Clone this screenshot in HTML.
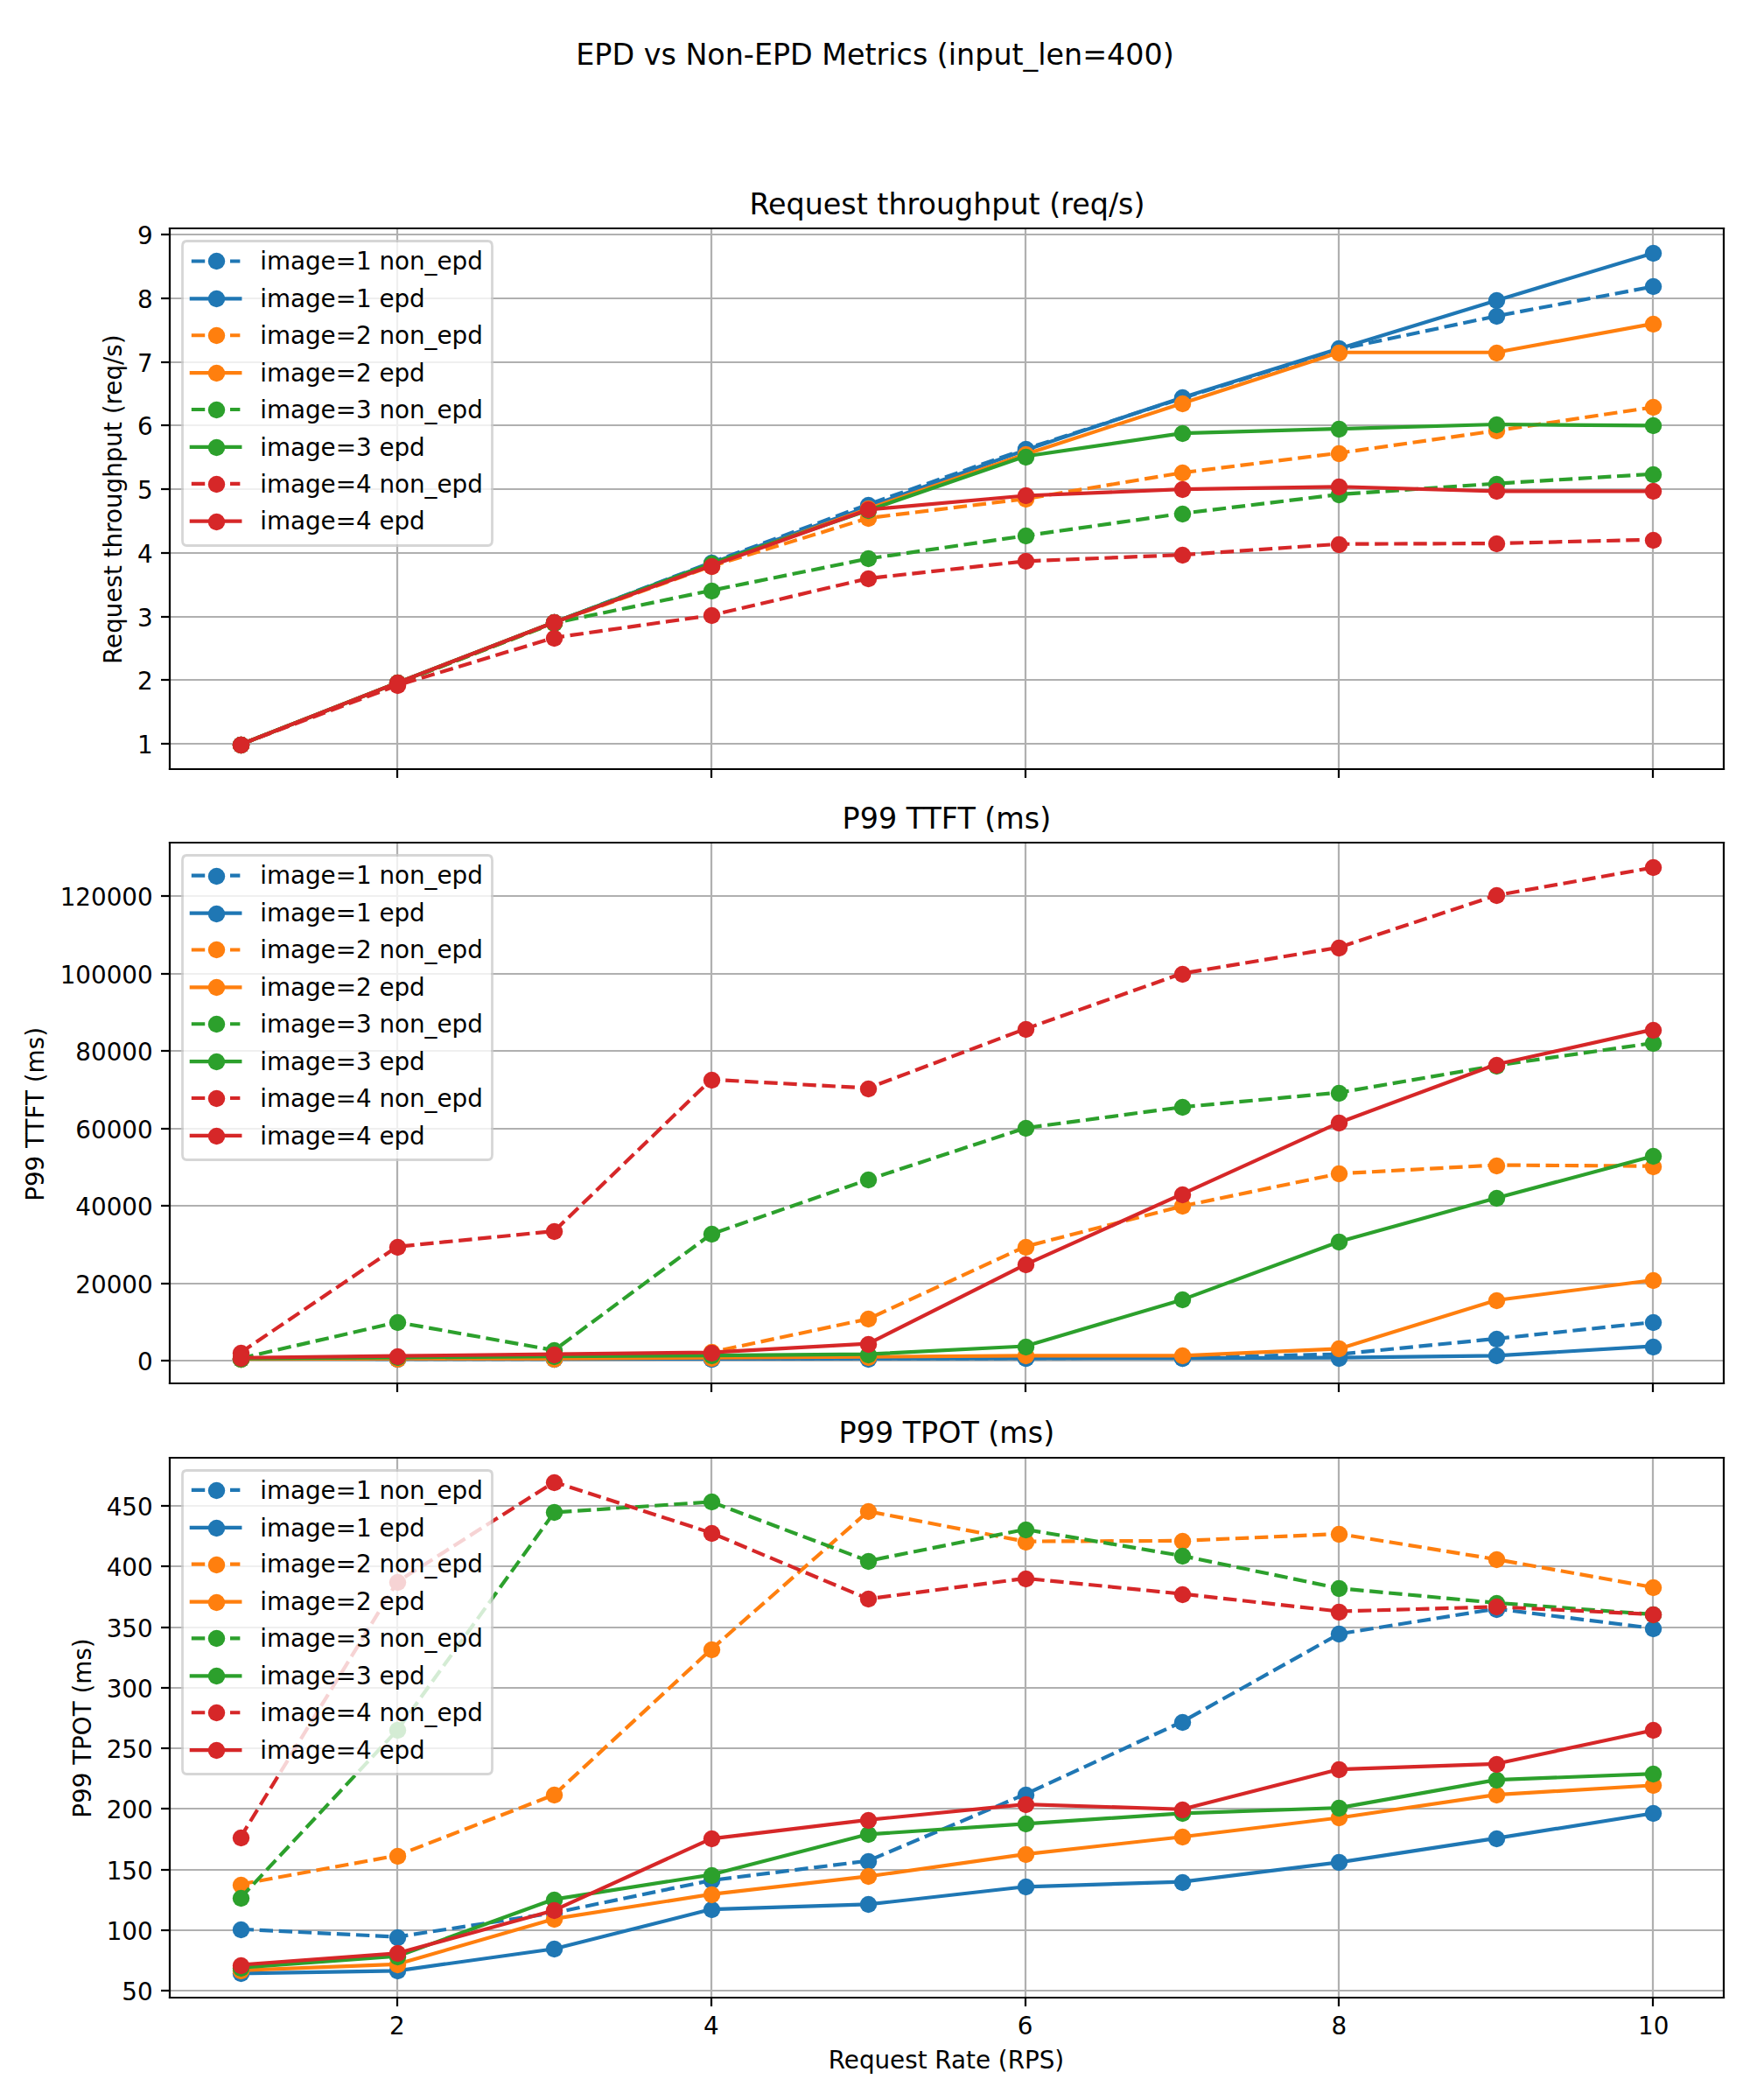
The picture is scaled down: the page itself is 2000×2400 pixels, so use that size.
<!DOCTYPE html>
<html lang="en"><head><meta charset="utf-8"><title>EPD vs Non-EPD Metrics (input_len=400)</title>
<style>html,body{margin:0;padding:0;background:#fff}body{width:2000px;height:2400px;overflow:hidden}svg{display:block}text{fill:#000;stroke:none}</style></head>
<body>
<svg width="2000" height="2400" viewBox="0 0 2000 2400" font-family="'DejaVu Sans','Liberation Sans',sans-serif" fill="none" stroke-linejoin="round">
<defs><clipPath id="pfb140a372c"><rect x="193.81" y="261.2" width="1776.19" height="617.82"/></clipPath><clipPath id="p8f3e47ff96"><rect x="193.81" y="963.41" width="1776.19" height="617.82"/></clipPath><clipPath id="pfa2d63858b"><rect x="193.81" y="1665.62" width="1776.19" height="617.82"/></clipPath></defs>
<path d="M0 2400L2000 2400L2000 0L0 0Z" fill="#ffffff"/>
<path d="M193.81 879.02L1970 879.02L1970 261.2L193.81 261.2Z" fill="#ffffff"/>
<path d="M454 879L454 261" fill="none" stroke="#b0b0b0" stroke-width="2.22" stroke-linecap="square" clip-path="url(#pfb140a372c)"/>
<path d="M454 879L454 889" stroke="#000" stroke-width="2.22"/>
<path d="M813 879L813 261" fill="none" stroke="#b0b0b0" stroke-width="2.22" stroke-linecap="square" clip-path="url(#pfb140a372c)"/>
<path d="M813 879L813 889" stroke="#000" stroke-width="2.22"/>
<path d="M1172 879L1172 261" fill="none" stroke="#b0b0b0" stroke-width="2.22" stroke-linecap="square" clip-path="url(#pfb140a372c)"/>
<path d="M1172 879L1172 889" stroke="#000" stroke-width="2.22"/>
<path d="M1530 879L1530 261" fill="none" stroke="#b0b0b0" stroke-width="2.22" stroke-linecap="square" clip-path="url(#pfb140a372c)"/>
<path d="M1530 879L1530 889" stroke="#000" stroke-width="2.22"/>
<path d="M1889 879L1889 261" fill="none" stroke="#b0b0b0" stroke-width="2.22" stroke-linecap="square" clip-path="url(#pfb140a372c)"/>
<path d="M1889 879L1889 889" stroke="#000" stroke-width="2.22"/>
<path d="M194 850L1970 850" fill="none" stroke="#b0b0b0" stroke-width="2.22" stroke-linecap="square" clip-path="url(#pfb140a372c)"/>
<path d="M194 850L184 850" stroke="#000" stroke-width="2.22"/>
<text x="174.66" y="861.21" font-size="27.78" text-anchor="end">1</text>
<path d="M194 777L1970 777" fill="none" stroke="#b0b0b0" stroke-width="2.22" stroke-linecap="square" clip-path="url(#pfb140a372c)"/>
<path d="M194 777L184 777" stroke="#000" stroke-width="2.22"/>
<text x="174.66" y="788.46" font-size="27.78" text-anchor="end">2</text>
<path d="M194 705L1970 705" fill="none" stroke="#b0b0b0" stroke-width="2.22" stroke-linecap="square" clip-path="url(#pfb140a372c)"/>
<path d="M194 705L184 705" stroke="#000" stroke-width="2.22"/>
<text x="174.66" y="715.7" font-size="27.78" text-anchor="end">3</text>
<path d="M194 632L1970 632" fill="none" stroke="#b0b0b0" stroke-width="2.22" stroke-linecap="square" clip-path="url(#pfb140a372c)"/>
<path d="M194 632L184 632" stroke="#000" stroke-width="2.22"/>
<text x="174.66" y="642.95" font-size="27.78" text-anchor="end">4</text>
<path d="M194 559L1970 559" fill="none" stroke="#b0b0b0" stroke-width="2.22" stroke-linecap="square" clip-path="url(#pfb140a372c)"/>
<path d="M194 559L184 559" stroke="#000" stroke-width="2.22"/>
<text x="174.66" y="570.2" font-size="27.78" text-anchor="end">5</text>
<path d="M194 486L1970 486" fill="none" stroke="#b0b0b0" stroke-width="2.22" stroke-linecap="square" clip-path="url(#pfb140a372c)"/>
<path d="M194 486L184 486" stroke="#000" stroke-width="2.22"/>
<text x="174.66" y="497.44" font-size="27.78" text-anchor="end">6</text>
<path d="M194 414L1970 414" fill="none" stroke="#b0b0b0" stroke-width="2.22" stroke-linecap="square" clip-path="url(#pfb140a372c)"/>
<path d="M194 414L184 414" stroke="#000" stroke-width="2.22"/>
<text x="174.66" y="424.69" font-size="27.78" text-anchor="end">7</text>
<path d="M194 341L1970 341" fill="none" stroke="#b0b0b0" stroke-width="2.22" stroke-linecap="square" clip-path="url(#pfb140a372c)"/>
<path d="M194 341L184 341" stroke="#000" stroke-width="2.22"/>
<text x="174.66" y="351.94" font-size="27.78" text-anchor="end">8</text>
<path d="M194 268L1970 268" fill="none" stroke="#b0b0b0" stroke-width="2.22" stroke-linecap="square" clip-path="url(#pfb140a372c)"/>
<path d="M194 268L184 268" stroke="#000" stroke-width="2.22"/>
<text x="174.66" y="279.18" font-size="27.78" text-anchor="end">9</text>
<text x="139.5" y="570.66" font-size="27.78" text-anchor="middle" transform="rotate(-90 139.5 570.66)">Request throughput (req/s)</text>
<path d="M274.54 850.94L453.96 781.09L633.37 711.25L812.78 642.86L992.2 576.51L1171.61 513.22L1351.02 455.16L1530.44 399.14L1709.85 361.31L1889.26 327.48" fill="none" stroke="#1f77b4" stroke-width="4.17" stroke-dasharray="15.42,6.67" clip-path="url(#pfb140a372c)"/>
<g clip-path="url(#pfb140a372c)">
<circle cx="275.5" cy="851.5" r="9.72" fill="#1f77b4"/>
<circle cx="454.5" cy="781.5" r="9.72" fill="#1f77b4"/>
<circle cx="633.5" cy="711.5" r="9.72" fill="#1f77b4"/>
<circle cx="813.5" cy="643.5" r="9.72" fill="#1f77b4"/>
<circle cx="992.5" cy="577.5" r="9.72" fill="#1f77b4"/>
<circle cx="1172.5" cy="513.5" r="9.72" fill="#1f77b4"/>
<circle cx="1351.5" cy="455.5" r="9.72" fill="#1f77b4"/>
<circle cx="1530.5" cy="399.5" r="9.72" fill="#1f77b4"/>
<circle cx="1710.5" cy="361.5" r="9.72" fill="#1f77b4"/>
<circle cx="1889.5" cy="327.5" r="9.72" fill="#1f77b4"/>
</g>
<path d="M274.54 850.94L453.96 780.37L633.37 711.25L812.78 643.59L992.2 579.2L1171.61 514.45L1351.02 454.43L1530.44 398.41L1709.85 343.48L1889.26 289.28" fill="none" stroke="#1f77b4" stroke-width="4.17" stroke-linecap="square" clip-path="url(#pfb140a372c)"/>
<g clip-path="url(#pfb140a372c)">
<circle cx="275.5" cy="851.5" r="9.72" fill="#1f77b4"/>
<circle cx="454.5" cy="780.5" r="9.72" fill="#1f77b4"/>
<circle cx="633.5" cy="711.5" r="9.72" fill="#1f77b4"/>
<circle cx="813.5" cy="644.5" r="9.72" fill="#1f77b4"/>
<circle cx="992.5" cy="579.5" r="9.72" fill="#1f77b4"/>
<circle cx="1172.5" cy="514.5" r="9.72" fill="#1f77b4"/>
<circle cx="1351.5" cy="454.5" r="9.72" fill="#1f77b4"/>
<circle cx="1530.5" cy="398.5" r="9.72" fill="#1f77b4"/>
<circle cx="1710.5" cy="343.5" r="9.72" fill="#1f77b4"/>
<circle cx="1889.5" cy="289.5" r="9.72" fill="#1f77b4"/>
</g>
<path d="M274.54 850.94L453.96 781.09L633.37 711.98L812.78 647.23L992.2 592.08L1171.61 570.11L1351.02 540.28L1530.44 517.73L1709.85 492.26L1889.26 465.34" fill="none" stroke="#ff7f0e" stroke-width="4.17" stroke-dasharray="15.42,6.67" clip-path="url(#pfb140a372c)"/>
<g clip-path="url(#pfb140a372c)">
<circle cx="275.5" cy="851.5" r="9.72" fill="#ff7f0e"/>
<circle cx="454.5" cy="781.5" r="9.72" fill="#ff7f0e"/>
<circle cx="633.5" cy="712.5" r="9.72" fill="#ff7f0e"/>
<circle cx="813.5" cy="647.5" r="9.72" fill="#ff7f0e"/>
<circle cx="992.5" cy="592.5" r="9.72" fill="#ff7f0e"/>
<circle cx="1172.5" cy="570.5" r="9.72" fill="#ff7f0e"/>
<circle cx="1351.5" cy="540.5" r="9.72" fill="#ff7f0e"/>
<circle cx="1530.5" cy="518.5" r="9.72" fill="#ff7f0e"/>
<circle cx="1710.5" cy="492.5" r="9.72" fill="#ff7f0e"/>
<circle cx="1889.5" cy="465.5" r="9.72" fill="#ff7f0e"/>
</g>
<path d="M274.54 850.94L453.96 780.37L633.37 711.25L812.78 645.41L992.2 581.39L1171.61 519.33L1351.02 460.98L1530.44 402.78L1709.85 402.78L1889.26 370.04" fill="none" stroke="#ff7f0e" stroke-width="4.17" stroke-linecap="square" clip-path="url(#pfb140a372c)"/>
<g clip-path="url(#pfb140a372c)">
<circle cx="275.5" cy="851.5" r="9.72" fill="#ff7f0e"/>
<circle cx="454.5" cy="780.5" r="9.72" fill="#ff7f0e"/>
<circle cx="633.5" cy="711.5" r="9.72" fill="#ff7f0e"/>
<circle cx="813.5" cy="645.5" r="9.72" fill="#ff7f0e"/>
<circle cx="992.5" cy="581.5" r="9.72" fill="#ff7f0e"/>
<circle cx="1172.5" cy="519.5" r="9.72" fill="#ff7f0e"/>
<circle cx="1351.5" cy="461.5" r="9.72" fill="#ff7f0e"/>
<circle cx="1530.5" cy="403.5" r="9.72" fill="#ff7f0e"/>
<circle cx="1710.5" cy="403.5" r="9.72" fill="#ff7f0e"/>
<circle cx="1889.5" cy="370.5" r="9.72" fill="#ff7f0e"/>
</g>
<path d="M274.54 850.94L453.96 781.09L633.37 711.98L812.78 674.87L992.2 638.5L1171.61 612.31L1351.02 586.84L1530.44 565.02L1709.85 552.65L1889.26 541.74" fill="none" stroke="#2ca02c" stroke-width="4.17" stroke-dasharray="15.42,6.67" clip-path="url(#pfb140a372c)"/>
<g clip-path="url(#pfb140a372c)">
<circle cx="275.5" cy="851.5" r="9.72" fill="#2ca02c"/>
<circle cx="454.5" cy="781.5" r="9.72" fill="#2ca02c"/>
<circle cx="633.5" cy="712.5" r="9.72" fill="#2ca02c"/>
<circle cx="813.5" cy="675.5" r="9.72" fill="#2ca02c"/>
<circle cx="992.5" cy="638.5" r="9.72" fill="#2ca02c"/>
<circle cx="1172.5" cy="612.5" r="9.72" fill="#2ca02c"/>
<circle cx="1351.5" cy="587.5" r="9.72" fill="#2ca02c"/>
<circle cx="1530.5" cy="565.5" r="9.72" fill="#2ca02c"/>
<circle cx="1710.5" cy="553.5" r="9.72" fill="#2ca02c"/>
<circle cx="1889.5" cy="542.5" r="9.72" fill="#2ca02c"/>
</g>
<path d="M274.54 850.94L453.96 780.37L633.37 711.25L812.78 644.17L992.2 583.21L1171.61 521.51L1351.02 495.17L1530.44 490.08L1709.85 484.99L1889.26 486.44" fill="none" stroke="#2ca02c" stroke-width="4.17" stroke-linecap="square" clip-path="url(#pfb140a372c)"/>
<g clip-path="url(#pfb140a372c)">
<circle cx="275.5" cy="851.5" r="9.72" fill="#2ca02c"/>
<circle cx="454.5" cy="780.5" r="9.72" fill="#2ca02c"/>
<circle cx="633.5" cy="711.5" r="9.72" fill="#2ca02c"/>
<circle cx="813.5" cy="644.5" r="9.72" fill="#2ca02c"/>
<circle cx="992.5" cy="583.5" r="9.72" fill="#2ca02c"/>
<circle cx="1172.5" cy="522.5" r="9.72" fill="#2ca02c"/>
<circle cx="1351.5" cy="495.5" r="9.72" fill="#2ca02c"/>
<circle cx="1530.5" cy="490.5" r="9.72" fill="#2ca02c"/>
<circle cx="1710.5" cy="485.5" r="9.72" fill="#2ca02c"/>
<circle cx="1889.5" cy="486.5" r="9.72" fill="#2ca02c"/>
</g>
<path d="M274.54 850.94L453.96 783.28L633.37 728.71L812.78 703.25L992.2 661.05L1171.61 641.41L1351.02 634.13L1530.44 621.76L1709.85 621.04L1889.26 616.67" fill="none" stroke="#d62728" stroke-width="4.17" stroke-dasharray="15.42,6.67" clip-path="url(#pfb140a372c)"/>
<g clip-path="url(#pfb140a372c)">
<circle cx="275.5" cy="851.5" r="9.72" fill="#d62728"/>
<circle cx="454.5" cy="783.5" r="9.72" fill="#d62728"/>
<circle cx="633.5" cy="729.5" r="9.72" fill="#d62728"/>
<circle cx="813.5" cy="703.5" r="9.72" fill="#d62728"/>
<circle cx="992.5" cy="661.5" r="9.72" fill="#d62728"/>
<circle cx="1172.5" cy="641.5" r="9.72" fill="#d62728"/>
<circle cx="1351.5" cy="634.5" r="9.72" fill="#d62728"/>
<circle cx="1530.5" cy="622.5" r="9.72" fill="#d62728"/>
<circle cx="1710.5" cy="621.5" r="9.72" fill="#d62728"/>
<circle cx="1889.5" cy="617.5" r="9.72" fill="#d62728"/>
</g>
<path d="M274.54 850.94L453.96 780.37L633.37 711.25L812.78 646.5L992.2 582.48L1171.61 566.47L1351.02 559.2L1530.44 556.29L1709.85 561.38L1889.26 561.38" fill="none" stroke="#d62728" stroke-width="4.17" stroke-linecap="square" clip-path="url(#pfb140a372c)"/>
<g clip-path="url(#pfb140a372c)">
<circle cx="275.5" cy="851.5" r="9.72" fill="#d62728"/>
<circle cx="454.5" cy="780.5" r="9.72" fill="#d62728"/>
<circle cx="633.5" cy="711.5" r="9.72" fill="#d62728"/>
<circle cx="813.5" cy="647.5" r="9.72" fill="#d62728"/>
<circle cx="992.5" cy="582.5" r="9.72" fill="#d62728"/>
<circle cx="1172.5" cy="566.5" r="9.72" fill="#d62728"/>
<circle cx="1351.5" cy="559.5" r="9.72" fill="#d62728"/>
<circle cx="1530.5" cy="556.5" r="9.72" fill="#d62728"/>
<circle cx="1710.5" cy="561.5" r="9.72" fill="#d62728"/>
<circle cx="1889.5" cy="561.5" r="9.72" fill="#d62728"/>
</g>
<path d="M194 879L194 261" fill="none" stroke="#000000" stroke-width="2.22" stroke-linecap="square" stroke-linejoin="miter"/>
<path d="M1970 879L1970 261" fill="none" stroke="#000000" stroke-width="2.22" stroke-linecap="square" stroke-linejoin="miter"/>
<path d="M194 879L1970 879" fill="none" stroke="#000000" stroke-width="2.22" stroke-linecap="square" stroke-linejoin="miter"/>
<path d="M194 261L1970 261" fill="none" stroke="#000000" stroke-width="2.22" stroke-linecap="square" stroke-linejoin="miter"/>
<text x="1082.45" y="244.53" font-size="33.33" text-anchor="middle">Request throughput (req/s)</text>
<path d="M213.5 623.5L557.5 623.5Q562.5 623.5 562.5 617.5L562.5 281.5Q562.5 275.5 557.5 275.5L213.5 275.5Q208.5 275.5 208.5 281.5L208.5 617.5Q208.5 623.5 213.5 623.5Z" fill="#ffffff" stroke="#cccccc" stroke-width="2.78" stroke-linejoin="miter" opacity="0.8"/>
<path d="M218.81 298.48L246.58 298.48L274.36 298.48" fill="none" stroke="#1f77b4" stroke-width="4.17" stroke-dasharray="15.42,6.67"/>
<circle cx="247.5" cy="298.5" r="9.72" fill="#1f77b4"/>
<text x="297.18" y="308.2" font-size="27.78">image=1 non_epd</text>
<path d="M218.81 341.36L246.58 341.36L274.36 341.36" fill="none" stroke="#1f77b4" stroke-width="4.17" stroke-linecap="square"/>
<circle cx="247.5" cy="341.5" r="9.72" fill="#1f77b4"/>
<text x="297.18" y="351.09" font-size="27.78">image=1 epd</text>
<path d="M218.81 383.25L246.58 383.25L274.36 383.25" fill="none" stroke="#ff7f0e" stroke-width="4.17" stroke-dasharray="15.42,6.67"/>
<circle cx="247.5" cy="383.5" r="9.72" fill="#ff7f0e"/>
<text x="297.18" y="392.98" font-size="27.78">image=2 non_epd</text>
<path d="M218.81 426.14L246.58 426.14L274.36 426.14" fill="none" stroke="#ff7f0e" stroke-width="4.17" stroke-linecap="square"/>
<circle cx="247.5" cy="426.5" r="9.72" fill="#ff7f0e"/>
<text x="297.18" y="435.86" font-size="27.78">image=2 epd</text>
<path d="M218.81 468.03L246.58 468.03L274.36 468.03" fill="none" stroke="#2ca02c" stroke-width="4.17" stroke-dasharray="15.42,6.67"/>
<circle cx="247.5" cy="468.5" r="9.72" fill="#2ca02c"/>
<text x="297.18" y="477.75" font-size="27.78">image=3 non_epd</text>
<path d="M218.81 510.92L246.58 510.92L274.36 510.92" fill="none" stroke="#2ca02c" stroke-width="4.17" stroke-linecap="square"/>
<circle cx="247.5" cy="511.5" r="9.72" fill="#2ca02c"/>
<text x="297.18" y="520.64" font-size="27.78">image=3 epd</text>
<path d="M218.81 552.81L246.58 552.81L274.36 552.81" fill="none" stroke="#d62728" stroke-width="4.17" stroke-dasharray="15.42,6.67"/>
<circle cx="247.5" cy="553.5" r="9.72" fill="#d62728"/>
<text x="297.18" y="562.53" font-size="27.78">image=4 non_epd</text>
<path d="M218.81 595.7L246.58 595.7L274.36 595.7" fill="none" stroke="#d62728" stroke-width="4.17" stroke-linecap="square"/>
<circle cx="247.5" cy="596.5" r="9.72" fill="#d62728"/>
<text x="297.18" y="605.42" font-size="27.78">image=4 epd</text>
<path d="M193.81 1581.23L1970 1581.23L1970 963.41L193.81 963.41Z" fill="#ffffff"/>
<path d="M454 1581L454 963" fill="none" stroke="#b0b0b0" stroke-width="2.22" stroke-linecap="square" clip-path="url(#p8f3e47ff96)"/>
<path d="M454 1581L454 1591" stroke="#000" stroke-width="2.22"/>
<path d="M813 1581L813 963" fill="none" stroke="#b0b0b0" stroke-width="2.22" stroke-linecap="square" clip-path="url(#p8f3e47ff96)"/>
<path d="M813 1581L813 1591" stroke="#000" stroke-width="2.22"/>
<path d="M1172 1581L1172 963" fill="none" stroke="#b0b0b0" stroke-width="2.22" stroke-linecap="square" clip-path="url(#p8f3e47ff96)"/>
<path d="M1172 1581L1172 1591" stroke="#000" stroke-width="2.22"/>
<path d="M1530 1581L1530 963" fill="none" stroke="#b0b0b0" stroke-width="2.22" stroke-linecap="square" clip-path="url(#p8f3e47ff96)"/>
<path d="M1530 1581L1530 1591" stroke="#000" stroke-width="2.22"/>
<path d="M1889 1581L1889 963" fill="none" stroke="#b0b0b0" stroke-width="2.22" stroke-linecap="square" clip-path="url(#p8f3e47ff96)"/>
<path d="M1889 1581L1889 1591" stroke="#000" stroke-width="2.22"/>
<path d="M194 1555L1970 1555" fill="none" stroke="#b0b0b0" stroke-width="2.22" stroke-linecap="square" clip-path="url(#p8f3e47ff96)"/>
<path d="M194 1555L184 1555" stroke="#000" stroke-width="2.22"/>
<text x="174.66" y="1566.14" font-size="27.78" text-anchor="end">0</text>
<path d="M194 1467L1970 1467" fill="none" stroke="#b0b0b0" stroke-width="2.22" stroke-linecap="square" clip-path="url(#p8f3e47ff96)"/>
<path d="M194 1467L184 1467" stroke="#000" stroke-width="2.22"/>
<text x="174.66" y="1477.62" font-size="27.78" text-anchor="end">20000</text>
<path d="M194 1378L1970 1378" fill="none" stroke="#b0b0b0" stroke-width="2.22" stroke-linecap="square" clip-path="url(#p8f3e47ff96)"/>
<path d="M194 1378L184 1378" stroke="#000" stroke-width="2.22"/>
<text x="174.66" y="1389.09" font-size="27.78" text-anchor="end">40000</text>
<path d="M194 1290L1970 1290" fill="none" stroke="#b0b0b0" stroke-width="2.22" stroke-linecap="square" clip-path="url(#p8f3e47ff96)"/>
<path d="M194 1290L184 1290" stroke="#000" stroke-width="2.22"/>
<text x="174.66" y="1300.56" font-size="27.78" text-anchor="end">60000</text>
<path d="M194 1201L1970 1201" fill="none" stroke="#b0b0b0" stroke-width="2.22" stroke-linecap="square" clip-path="url(#p8f3e47ff96)"/>
<path d="M194 1201L184 1201" stroke="#000" stroke-width="2.22"/>
<text x="174.66" y="1212.04" font-size="27.78" text-anchor="end">80000</text>
<path d="M194 1113L1970 1113" fill="none" stroke="#b0b0b0" stroke-width="2.22" stroke-linecap="square" clip-path="url(#p8f3e47ff96)"/>
<path d="M194 1113L184 1113" stroke="#000" stroke-width="2.22"/>
<text x="174.66" y="1123.51" font-size="27.78" text-anchor="end">100000</text>
<path d="M194 1024L1970 1024" fill="none" stroke="#b0b0b0" stroke-width="2.22" stroke-linecap="square" clip-path="url(#p8f3e47ff96)"/>
<path d="M194 1024L184 1024" stroke="#000" stroke-width="2.22"/>
<text x="174.66" y="1034.98" font-size="27.78" text-anchor="end">120000</text>
<text x="49.92" y="1273.42" font-size="27.78" text-anchor="middle" transform="rotate(-90 49.92 1273.42)">P99 TTFT (ms)</text>
<path d="M274.54 1552.93L453.96 1553.06L633.37 1553.06L812.78 1552.66L992.2 1552.49L1171.61 1552.26L1351.02 1551.6L1530.44 1547.62L1709.85 1530L1889.26 1511.1" fill="none" stroke="#1f77b4" stroke-width="4.17" stroke-dasharray="15.42,6.67" clip-path="url(#p8f3e47ff96)"/>
<g clip-path="url(#p8f3e47ff96)">
<circle cx="275.5" cy="1553.5" r="9.72" fill="#1f77b4"/>
<circle cx="454.5" cy="1553.5" r="9.72" fill="#1f77b4"/>
<circle cx="633.5" cy="1553.5" r="9.72" fill="#1f77b4"/>
<circle cx="813.5" cy="1553.5" r="9.72" fill="#1f77b4"/>
<circle cx="992.5" cy="1552.5" r="9.72" fill="#1f77b4"/>
<circle cx="1172.5" cy="1552.5" r="9.72" fill="#1f77b4"/>
<circle cx="1351.5" cy="1552.5" r="9.72" fill="#1f77b4"/>
<circle cx="1530.5" cy="1548.5" r="9.72" fill="#1f77b4"/>
<circle cx="1710.5" cy="1530.5" r="9.72" fill="#1f77b4"/>
<circle cx="1889.5" cy="1511.5" r="9.72" fill="#1f77b4"/>
</g>
<path d="M274.54 1553.02L453.96 1553.11L633.37 1553.11L812.78 1552.93L992.2 1552.75L1171.61 1552.49L1351.02 1552.04L1530.44 1551.6L1709.85 1549.39L1889.26 1538.54" fill="none" stroke="#1f77b4" stroke-width="4.17" stroke-linecap="square" clip-path="url(#p8f3e47ff96)"/>
<g clip-path="url(#p8f3e47ff96)">
<circle cx="275.5" cy="1553.5" r="9.72" fill="#1f77b4"/>
<circle cx="454.5" cy="1553.5" r="9.72" fill="#1f77b4"/>
<circle cx="633.5" cy="1553.5" r="9.72" fill="#1f77b4"/>
<circle cx="813.5" cy="1553.5" r="9.72" fill="#1f77b4"/>
<circle cx="992.5" cy="1553.5" r="9.72" fill="#1f77b4"/>
<circle cx="1172.5" cy="1552.5" r="9.72" fill="#1f77b4"/>
<circle cx="1351.5" cy="1552.5" r="9.72" fill="#1f77b4"/>
<circle cx="1530.5" cy="1552.5" r="9.72" fill="#1f77b4"/>
<circle cx="1710.5" cy="1549.5" r="9.72" fill="#1f77b4"/>
<circle cx="1889.5" cy="1539.5" r="9.72" fill="#1f77b4"/>
</g>
<path d="M274.54 1553.06L453.96 1552.49L633.37 1552.49L812.78 1545.4L992.2 1507.34L1171.61 1424.74L1351.02 1378.44L1530.44 1341.26L1709.85 1331.52L1889.26 1332.67" fill="none" stroke="#ff7f0e" stroke-width="4.17" stroke-dasharray="15.42,6.67" clip-path="url(#p8f3e47ff96)"/>
<g clip-path="url(#p8f3e47ff96)">
<circle cx="275.5" cy="1553.5" r="9.72" fill="#ff7f0e"/>
<circle cx="454.5" cy="1552.5" r="9.72" fill="#ff7f0e"/>
<circle cx="633.5" cy="1552.5" r="9.72" fill="#ff7f0e"/>
<circle cx="813.5" cy="1545.5" r="9.72" fill="#ff7f0e"/>
<circle cx="992.5" cy="1507.5" r="9.72" fill="#ff7f0e"/>
<circle cx="1172.5" cy="1425.5" r="9.72" fill="#ff7f0e"/>
<circle cx="1351.5" cy="1378.5" r="9.72" fill="#ff7f0e"/>
<circle cx="1530.5" cy="1341.5" r="9.72" fill="#ff7f0e"/>
<circle cx="1710.5" cy="1332.5" r="9.72" fill="#ff7f0e"/>
<circle cx="1889.5" cy="1333.5" r="9.72" fill="#ff7f0e"/>
</g>
<path d="M274.54 1553.15L453.96 1552.66L633.37 1552.66L812.78 1551.6L992.2 1550.63L1171.61 1549.39L1351.02 1549.39L1530.44 1541.42L1709.85 1485.96L1889.26 1463.07" fill="none" stroke="#ff7f0e" stroke-width="4.17" stroke-linecap="square" clip-path="url(#p8f3e47ff96)"/>
<g clip-path="url(#p8f3e47ff96)">
<circle cx="275.5" cy="1553.5" r="9.72" fill="#ff7f0e"/>
<circle cx="454.5" cy="1553.5" r="9.72" fill="#ff7f0e"/>
<circle cx="633.5" cy="1553.5" r="9.72" fill="#ff7f0e"/>
<circle cx="813.5" cy="1552.5" r="9.72" fill="#ff7f0e"/>
<circle cx="992.5" cy="1551.5" r="9.72" fill="#ff7f0e"/>
<circle cx="1172.5" cy="1549.5" r="9.72" fill="#ff7f0e"/>
<circle cx="1351.5" cy="1549.5" r="9.72" fill="#ff7f0e"/>
<circle cx="1530.5" cy="1541.5" r="9.72" fill="#ff7f0e"/>
<circle cx="1710.5" cy="1486.5" r="9.72" fill="#ff7f0e"/>
<circle cx="1889.5" cy="1463.5" r="9.72" fill="#ff7f0e"/>
</g>
<path d="M274.54 1552.49L453.96 1511.1L633.37 1543.19L812.78 1410.44L992.2 1348.12L1171.61 1289.21L1351.02 1265.22L1530.44 1248.62L1709.85 1217.72L1889.26 1192.01" fill="none" stroke="#2ca02c" stroke-width="4.17" stroke-dasharray="15.42,6.67" clip-path="url(#p8f3e47ff96)"/>
<g clip-path="url(#p8f3e47ff96)">
<circle cx="275.5" cy="1552.5" r="9.72" fill="#2ca02c"/>
<circle cx="454.5" cy="1511.5" r="9.72" fill="#2ca02c"/>
<circle cx="633.5" cy="1543.5" r="9.72" fill="#2ca02c"/>
<circle cx="813.5" cy="1410.5" r="9.72" fill="#2ca02c"/>
<circle cx="992.5" cy="1348.5" r="9.72" fill="#2ca02c"/>
<circle cx="1172.5" cy="1289.5" r="9.72" fill="#2ca02c"/>
<circle cx="1351.5" cy="1265.5" r="9.72" fill="#2ca02c"/>
<circle cx="1530.5" cy="1249.5" r="9.72" fill="#2ca02c"/>
<circle cx="1710.5" cy="1218.5" r="9.72" fill="#2ca02c"/>
<circle cx="1889.5" cy="1192.5" r="9.72" fill="#2ca02c"/>
</g>
<path d="M274.54 1552.71L453.96 1551.38L633.37 1550.27L812.78 1549.17L992.2 1547.62L1171.61 1538.54L1351.02 1485.38L1530.44 1419.03L1709.85 1369.28L1889.26 1321.25" fill="none" stroke="#2ca02c" stroke-width="4.17" stroke-linecap="square" clip-path="url(#p8f3e47ff96)"/>
<g clip-path="url(#p8f3e47ff96)">
<circle cx="275.5" cy="1553.5" r="9.72" fill="#2ca02c"/>
<circle cx="454.5" cy="1551.5" r="9.72" fill="#2ca02c"/>
<circle cx="633.5" cy="1550.5" r="9.72" fill="#2ca02c"/>
<circle cx="813.5" cy="1549.5" r="9.72" fill="#2ca02c"/>
<circle cx="992.5" cy="1548.5" r="9.72" fill="#2ca02c"/>
<circle cx="1172.5" cy="1539.5" r="9.72" fill="#2ca02c"/>
<circle cx="1351.5" cy="1485.5" r="9.72" fill="#2ca02c"/>
<circle cx="1530.5" cy="1419.5" r="9.72" fill="#2ca02c"/>
<circle cx="1710.5" cy="1369.5" r="9.72" fill="#2ca02c"/>
<circle cx="1889.5" cy="1321.5" r="9.72" fill="#2ca02c"/>
</g>
<path d="M274.54 1546.13L453.96 1424.74L633.37 1407.04L812.78 1233.79L992.2 1243.53L1171.61 1175.98L1351.02 1112.51L1530.44 1082.76L1709.85 1023.27L1889.26 991.49" fill="none" stroke="#d62728" stroke-width="4.17" stroke-dasharray="15.42,6.67" clip-path="url(#p8f3e47ff96)"/>
<g clip-path="url(#p8f3e47ff96)">
<circle cx="275.5" cy="1546.5" r="9.72" fill="#d62728"/>
<circle cx="454.5" cy="1425.5" r="9.72" fill="#d62728"/>
<circle cx="633.5" cy="1407.5" r="9.72" fill="#d62728"/>
<circle cx="813.5" cy="1234.5" r="9.72" fill="#d62728"/>
<circle cx="992.5" cy="1244.5" r="9.72" fill="#d62728"/>
<circle cx="1172.5" cy="1176.5" r="9.72" fill="#d62728"/>
<circle cx="1351.5" cy="1113.5" r="9.72" fill="#d62728"/>
<circle cx="1530.5" cy="1083.5" r="9.72" fill="#d62728"/>
<circle cx="1710.5" cy="1023.5" r="9.72" fill="#d62728"/>
<circle cx="1889.5" cy="991.5" r="9.72" fill="#d62728"/>
</g>
<path d="M274.54 1551.73L453.96 1549.61L633.37 1547.62L812.78 1545.63L992.2 1535.67L1171.61 1445.37L1351.02 1364.72L1530.44 1282.92L1709.85 1216.57L1889.26 1176.56" fill="none" stroke="#d62728" stroke-width="4.17" stroke-linecap="square" clip-path="url(#p8f3e47ff96)"/>
<g clip-path="url(#p8f3e47ff96)">
<circle cx="275.5" cy="1552.5" r="9.72" fill="#d62728"/>
<circle cx="454.5" cy="1550.5" r="9.72" fill="#d62728"/>
<circle cx="633.5" cy="1548.5" r="9.72" fill="#d62728"/>
<circle cx="813.5" cy="1546.5" r="9.72" fill="#d62728"/>
<circle cx="992.5" cy="1536.5" r="9.72" fill="#d62728"/>
<circle cx="1172.5" cy="1445.5" r="9.72" fill="#d62728"/>
<circle cx="1351.5" cy="1365.5" r="9.72" fill="#d62728"/>
<circle cx="1530.5" cy="1283.5" r="9.72" fill="#d62728"/>
<circle cx="1710.5" cy="1217.5" r="9.72" fill="#d62728"/>
<circle cx="1889.5" cy="1177.5" r="9.72" fill="#d62728"/>
</g>
<path d="M194 1581L194 963" fill="none" stroke="#000000" stroke-width="2.22" stroke-linecap="square" stroke-linejoin="miter"/>
<path d="M1970 1581L1970 963" fill="none" stroke="#000000" stroke-width="2.22" stroke-linecap="square" stroke-linejoin="miter"/>
<path d="M194 1581L1970 1581" fill="none" stroke="#000000" stroke-width="2.22" stroke-linecap="square" stroke-linejoin="miter"/>
<path d="M194 963L1970 963" fill="none" stroke="#000000" stroke-width="2.22" stroke-linecap="square" stroke-linejoin="miter"/>
<text x="1081.9" y="946.74" font-size="33.33" text-anchor="middle">P99 TTFT (ms)</text>
<path d="M213.5 1325.5L557.5 1325.5Q562.5 1325.5 562.5 1319.5L562.5 983.5Q562.5 977.5 557.5 977.5L213.5 977.5Q208.5 977.5 208.5 983.5L208.5 1319.5Q208.5 1325.5 213.5 1325.5Z" fill="#ffffff" stroke="#cccccc" stroke-width="2.78" stroke-linejoin="miter" opacity="0.8"/>
<path d="M218.81 1000.69L246.58 1000.69L274.36 1000.69" fill="none" stroke="#1f77b4" stroke-width="4.17" stroke-dasharray="15.42,6.67"/>
<circle cx="247.5" cy="1001.5" r="9.72" fill="#1f77b4"/>
<text x="297.18" y="1010.41" font-size="27.78">image=1 non_epd</text>
<path d="M218.81 1043.58L246.58 1043.58L274.36 1043.58" fill="none" stroke="#1f77b4" stroke-width="4.17" stroke-linecap="square"/>
<circle cx="247.5" cy="1044.5" r="9.72" fill="#1f77b4"/>
<text x="297.18" y="1053.3" font-size="27.78">image=1 epd</text>
<path d="M218.81 1085.47L246.58 1085.47L274.36 1085.47" fill="none" stroke="#ff7f0e" stroke-width="4.17" stroke-dasharray="15.42,6.67"/>
<circle cx="247.5" cy="1085.5" r="9.72" fill="#ff7f0e"/>
<text x="297.18" y="1095.19" font-size="27.78">image=2 non_epd</text>
<path d="M218.81 1128.35L246.58 1128.35L274.36 1128.35" fill="none" stroke="#ff7f0e" stroke-width="4.17" stroke-linecap="square"/>
<circle cx="247.5" cy="1128.5" r="9.72" fill="#ff7f0e"/>
<text x="297.18" y="1138.08" font-size="27.78">image=2 epd</text>
<path d="M218.81 1170.24L246.58 1170.24L274.36 1170.24" fill="none" stroke="#2ca02c" stroke-width="4.17" stroke-dasharray="15.42,6.67"/>
<circle cx="247.5" cy="1170.5" r="9.72" fill="#2ca02c"/>
<text x="297.18" y="1179.97" font-size="27.78">image=3 non_epd</text>
<path d="M218.81 1213.13L246.58 1213.13L274.36 1213.13" fill="none" stroke="#2ca02c" stroke-width="4.17" stroke-linecap="square"/>
<circle cx="247.5" cy="1213.5" r="9.72" fill="#2ca02c"/>
<text x="297.18" y="1222.85" font-size="27.78">image=3 epd</text>
<path d="M218.81 1255.02L246.58 1255.02L274.36 1255.02" fill="none" stroke="#d62728" stroke-width="4.17" stroke-dasharray="15.42,6.67"/>
<circle cx="247.5" cy="1255.5" r="9.72" fill="#d62728"/>
<text x="297.18" y="1264.74" font-size="27.78">image=4 non_epd</text>
<path d="M218.81 1297.91L246.58 1297.91L274.36 1297.91" fill="none" stroke="#d62728" stroke-width="4.17" stroke-linecap="square"/>
<circle cx="247.5" cy="1298.5" r="9.72" fill="#d62728"/>
<text x="297.18" y="1307.63" font-size="27.78">image=4 epd</text>
<path d="M193.81 2283.44L1970 2283.44L1970 1665.62L193.81 1665.62Z" fill="#ffffff"/>
<path d="M454 2283L454 1666" fill="none" stroke="#b0b0b0" stroke-width="2.22" stroke-linecap="square" clip-path="url(#pfa2d63858b)"/>
<path d="M454 2283L454 2293" stroke="#000" stroke-width="2.22"/>
<text x="453.96" y="2324.89" font-size="27.78" text-anchor="middle">2</text>
<path d="M813 2283L813 1666" fill="none" stroke="#b0b0b0" stroke-width="2.22" stroke-linecap="square" clip-path="url(#pfa2d63858b)"/>
<path d="M813 2283L813 2293" stroke="#000" stroke-width="2.22"/>
<text x="812.78" y="2324.89" font-size="27.78" text-anchor="middle">4</text>
<path d="M1172 2283L1172 1666" fill="none" stroke="#b0b0b0" stroke-width="2.22" stroke-linecap="square" clip-path="url(#pfa2d63858b)"/>
<path d="M1172 2283L1172 2293" stroke="#000" stroke-width="2.22"/>
<text x="1171.61" y="2324.89" font-size="27.78" text-anchor="middle">6</text>
<path d="M1530 2283L1530 1666" fill="none" stroke="#b0b0b0" stroke-width="2.22" stroke-linecap="square" clip-path="url(#pfa2d63858b)"/>
<path d="M1530 2283L1530 2293" stroke="#000" stroke-width="2.22"/>
<text x="1530.44" y="2324.89" font-size="27.78" text-anchor="middle">8</text>
<path d="M1889 2283L1889 1666" fill="none" stroke="#b0b0b0" stroke-width="2.22" stroke-linecap="square" clip-path="url(#pfa2d63858b)"/>
<path d="M1889 2283L1889 2293" stroke="#000" stroke-width="2.22"/>
<text x="1889.76" y="2324.89" font-size="27.78" text-anchor="middle">10</text>
<text x="1081.47" y="2364" font-size="27.78" text-anchor="middle">Request Rate (RPS)</text>
<path d="M194 2275L1970 2275" fill="none" stroke="#b0b0b0" stroke-width="2.22" stroke-linecap="square" clip-path="url(#pfa2d63858b)"/>
<path d="M194 2275L184 2275" stroke="#000" stroke-width="2.22"/>
<text x="174.66" y="2286.17" font-size="27.78" text-anchor="end">50</text>
<path d="M194 2206L1970 2206" fill="none" stroke="#b0b0b0" stroke-width="2.22" stroke-linecap="square" clip-path="url(#pfa2d63858b)"/>
<path d="M194 2206L184 2206" stroke="#000" stroke-width="2.22"/>
<text x="174.66" y="2216.9" font-size="27.78" text-anchor="end">100</text>
<path d="M194 2137L1970 2137" fill="none" stroke="#b0b0b0" stroke-width="2.22" stroke-linecap="square" clip-path="url(#pfa2d63858b)"/>
<path d="M194 2137L184 2137" stroke="#000" stroke-width="2.22"/>
<text x="174.66" y="2147.63" font-size="27.78" text-anchor="end">150</text>
<path d="M194 2067L1970 2067" fill="none" stroke="#b0b0b0" stroke-width="2.22" stroke-linecap="square" clip-path="url(#pfa2d63858b)"/>
<path d="M194 2067L184 2067" stroke="#000" stroke-width="2.22"/>
<text x="174.66" y="2078.36" font-size="27.78" text-anchor="end">200</text>
<path d="M194 1998L1970 1998" fill="none" stroke="#b0b0b0" stroke-width="2.22" stroke-linecap="square" clip-path="url(#pfa2d63858b)"/>
<path d="M194 1998L184 1998" stroke="#000" stroke-width="2.22"/>
<text x="174.66" y="2009.09" font-size="27.78" text-anchor="end">250</text>
<path d="M194 1929L1970 1929" fill="none" stroke="#b0b0b0" stroke-width="2.22" stroke-linecap="square" clip-path="url(#pfa2d63858b)"/>
<path d="M194 1929L184 1929" stroke="#000" stroke-width="2.22"/>
<text x="174.66" y="1939.81" font-size="27.78" text-anchor="end">300</text>
<path d="M194 1860L1970 1860" fill="none" stroke="#b0b0b0" stroke-width="2.22" stroke-linecap="square" clip-path="url(#pfa2d63858b)"/>
<path d="M194 1860L184 1860" stroke="#000" stroke-width="2.22"/>
<text x="174.66" y="1870.54" font-size="27.78" text-anchor="end">350</text>
<path d="M194 1790L1970 1790" fill="none" stroke="#b0b0b0" stroke-width="2.22" stroke-linecap="square" clip-path="url(#pfa2d63858b)"/>
<path d="M194 1790L184 1790" stroke="#000" stroke-width="2.22"/>
<text x="174.66" y="1801.27" font-size="27.78" text-anchor="end">400</text>
<path d="M194 1721L1970 1721" fill="none" stroke="#b0b0b0" stroke-width="2.22" stroke-linecap="square" clip-path="url(#pfa2d63858b)"/>
<path d="M194 1721L184 1721" stroke="#000" stroke-width="2.22"/>
<text x="174.66" y="1732" font-size="27.78" text-anchor="end">450</text>
<text x="104" y="1975.03" font-size="27.78" text-anchor="middle" transform="rotate(-90 104 1975.03)">P99 TPOT (ms)</text>
<path d="M274.54 2204.79L453.96 2213.52L633.37 2186.09L812.78 2148.96L992.2 2126.65L1171.61 2050.59L1351.02 1967.74L1530.44 1867.3L1709.85 1838.62L1889.26 1860.93" fill="none" stroke="#1f77b4" stroke-width="4.17" stroke-dasharray="15.42,6.67" clip-path="url(#pfa2d63858b)"/>
<g clip-path="url(#pfa2d63858b)">
<circle cx="275.5" cy="2205.5" r="9.72" fill="#1f77b4"/>
<circle cx="454.5" cy="2214.5" r="9.72" fill="#1f77b4"/>
<circle cx="633.5" cy="2186.5" r="9.72" fill="#1f77b4"/>
<circle cx="813.5" cy="2149.5" r="9.72" fill="#1f77b4"/>
<circle cx="992.5" cy="2127.5" r="9.72" fill="#1f77b4"/>
<circle cx="1172.5" cy="2051.5" r="9.72" fill="#1f77b4"/>
<circle cx="1351.5" cy="1968.5" r="9.72" fill="#1f77b4"/>
<circle cx="1530.5" cy="1867.5" r="9.72" fill="#1f77b4"/>
<circle cx="1710.5" cy="1839.5" r="9.72" fill="#1f77b4"/>
<circle cx="1889.5" cy="1861.5" r="9.72" fill="#1f77b4"/>
</g>
<path d="M274.54 2255.36L453.96 2252.31L633.37 2227.24L812.78 2182.07L992.2 2176.39L1171.61 2156.3L1351.02 2150.62L1530.44 2128.32L1709.85 2100.89L1889.26 2072.35" fill="none" stroke="#1f77b4" stroke-width="4.17" stroke-linecap="square" clip-path="url(#pfa2d63858b)"/>
<g clip-path="url(#pfa2d63858b)">
<circle cx="275.5" cy="2255.5" r="9.72" fill="#1f77b4"/>
<circle cx="454.5" cy="2252.5" r="9.72" fill="#1f77b4"/>
<circle cx="633.5" cy="2227.5" r="9.72" fill="#1f77b4"/>
<circle cx="813.5" cy="2182.5" r="9.72" fill="#1f77b4"/>
<circle cx="992.5" cy="2176.5" r="9.72" fill="#1f77b4"/>
<circle cx="1172.5" cy="2156.5" r="9.72" fill="#1f77b4"/>
<circle cx="1351.5" cy="2151.5" r="9.72" fill="#1f77b4"/>
<circle cx="1530.5" cy="2128.5" r="9.72" fill="#1f77b4"/>
<circle cx="1710.5" cy="2101.5" r="9.72" fill="#1f77b4"/>
<circle cx="1889.5" cy="2072.5" r="9.72" fill="#1f77b4"/>
</g>
<path d="M274.54 2153.53L453.96 2120.56L633.37 2051.15L812.78 1885.03L992.2 1727.23L1171.61 1761.59L1351.02 1760.9L1530.44 1753L1709.85 1782.1L1889.26 1814.1" fill="none" stroke="#ff7f0e" stroke-width="4.17" stroke-dasharray="15.42,6.67" clip-path="url(#pfa2d63858b)"/>
<g clip-path="url(#pfa2d63858b)">
<circle cx="275.5" cy="2154.5" r="9.72" fill="#ff7f0e"/>
<circle cx="454.5" cy="2121.5" r="9.72" fill="#ff7f0e"/>
<circle cx="633.5" cy="2051.5" r="9.72" fill="#ff7f0e"/>
<circle cx="813.5" cy="1885.5" r="9.72" fill="#ff7f0e"/>
<circle cx="992.5" cy="1727.5" r="9.72" fill="#ff7f0e"/>
<circle cx="1172.5" cy="1762.5" r="9.72" fill="#ff7f0e"/>
<circle cx="1351.5" cy="1761.5" r="9.72" fill="#ff7f0e"/>
<circle cx="1530.5" cy="1753.5" r="9.72" fill="#ff7f0e"/>
<circle cx="1710.5" cy="1782.5" r="9.72" fill="#ff7f0e"/>
<circle cx="1889.5" cy="1814.5" r="9.72" fill="#ff7f0e"/>
</g>
<path d="M274.54 2251.76L453.96 2244.83L633.37 2192.88L812.78 2164.89L992.2 2144.39L1171.61 2119.17L1351.02 2099.22L1530.44 2077.47L1709.85 2051.15L1889.26 2040.34" fill="none" stroke="#ff7f0e" stroke-width="4.17" stroke-linecap="square" clip-path="url(#pfa2d63858b)"/>
<g clip-path="url(#pfa2d63858b)">
<circle cx="275.5" cy="2252.5" r="9.72" fill="#ff7f0e"/>
<circle cx="454.5" cy="2245.5" r="9.72" fill="#ff7f0e"/>
<circle cx="633.5" cy="2193.5" r="9.72" fill="#ff7f0e"/>
<circle cx="813.5" cy="2165.5" r="9.72" fill="#ff7f0e"/>
<circle cx="992.5" cy="2144.5" r="9.72" fill="#ff7f0e"/>
<circle cx="1172.5" cy="2119.5" r="9.72" fill="#ff7f0e"/>
<circle cx="1351.5" cy="2099.5" r="9.72" fill="#ff7f0e"/>
<circle cx="1530.5" cy="2077.5" r="9.72" fill="#ff7f0e"/>
<circle cx="1710.5" cy="2051.5" r="9.72" fill="#ff7f0e"/>
<circle cx="1889.5" cy="2040.5" r="9.72" fill="#ff7f0e"/>
</g>
<path d="M274.54 2169.46L453.96 1977.44L633.37 1728.48L812.78 1716.43L992.2 1783.9L1171.61 1747.88L1351.02 1778.08L1530.44 1815.21L1709.85 1831.83L1889.26 1844.99" fill="none" stroke="#2ca02c" stroke-width="4.17" stroke-dasharray="15.42,6.67" clip-path="url(#pfa2d63858b)"/>
<g clip-path="url(#pfa2d63858b)">
<circle cx="275.5" cy="2169.5" r="9.72" fill="#2ca02c"/>
<circle cx="454.5" cy="1977.5" r="9.72" fill="#2ca02c"/>
<circle cx="633.5" cy="1728.5" r="9.72" fill="#2ca02c"/>
<circle cx="813.5" cy="1716.5" r="9.72" fill="#2ca02c"/>
<circle cx="992.5" cy="1784.5" r="9.72" fill="#2ca02c"/>
<circle cx="1172.5" cy="1748.5" r="9.72" fill="#2ca02c"/>
<circle cx="1351.5" cy="1778.5" r="9.72" fill="#2ca02c"/>
<circle cx="1530.5" cy="1815.5" r="9.72" fill="#2ca02c"/>
<circle cx="1710.5" cy="1832.5" r="9.72" fill="#2ca02c"/>
<circle cx="1889.5" cy="1845.5" r="9.72" fill="#2ca02c"/>
</g>
<path d="M274.54 2248.85L453.96 2235.69L633.37 2170.57L812.78 2142.59L992.2 2096.31L1171.61 2084.4L1351.02 2072.35L1530.44 2066.11L1709.85 2034.11L1889.26 2027.18" fill="none" stroke="#2ca02c" stroke-width="4.17" stroke-linecap="square" clip-path="url(#pfa2d63858b)"/>
<g clip-path="url(#pfa2d63858b)">
<circle cx="275.5" cy="2249.5" r="9.72" fill="#2ca02c"/>
<circle cx="454.5" cy="2236.5" r="9.72" fill="#2ca02c"/>
<circle cx="633.5" cy="2171.5" r="9.72" fill="#2ca02c"/>
<circle cx="813.5" cy="2143.5" r="9.72" fill="#2ca02c"/>
<circle cx="992.5" cy="2096.5" r="9.72" fill="#2ca02c"/>
<circle cx="1172.5" cy="2084.5" r="9.72" fill="#2ca02c"/>
<circle cx="1351.5" cy="2072.5" r="9.72" fill="#2ca02c"/>
<circle cx="1530.5" cy="2066.5" r="9.72" fill="#2ca02c"/>
<circle cx="1710.5" cy="2034.5" r="9.72" fill="#2ca02c"/>
<circle cx="1889.5" cy="2027.5" r="9.72" fill="#2ca02c"/>
</g>
<path d="M274.54 2100.33L453.96 1807.86L633.37 1693.7L812.78 1751.89L992.2 1827.26L1171.61 1803.85L1351.02 1821.58L1530.44 1841.53L1709.85 1836.4L1889.26 1844.99" fill="none" stroke="#d62728" stroke-width="4.17" stroke-dasharray="15.42,6.67" clip-path="url(#pfa2d63858b)"/>
<g clip-path="url(#pfa2d63858b)">
<circle cx="275.5" cy="2100.5" r="9.72" fill="#d62728"/>
<circle cx="454.5" cy="1808.5" r="9.72" fill="#d62728"/>
<circle cx="633.5" cy="1694.5" r="9.72" fill="#d62728"/>
<circle cx="813.5" cy="1752.5" r="9.72" fill="#d62728"/>
<circle cx="992.5" cy="1827.5" r="9.72" fill="#d62728"/>
<circle cx="1172.5" cy="1804.5" r="9.72" fill="#d62728"/>
<circle cx="1351.5" cy="1822.5" r="9.72" fill="#d62728"/>
<circle cx="1530.5" cy="1842.5" r="9.72" fill="#d62728"/>
<circle cx="1710.5" cy="1836.5" r="9.72" fill="#d62728"/>
<circle cx="1889.5" cy="1845.5" r="9.72" fill="#d62728"/>
</g>
<path d="M274.54 2245.52L453.96 2232.36L633.37 2183.18L812.78 2101.44L992.2 2079.83L1171.61 2062.09L1351.02 2067.77L1530.44 2022.05L1709.85 2015.82L1889.26 1977.44" fill="none" stroke="#d62728" stroke-width="4.17" stroke-linecap="square" clip-path="url(#pfa2d63858b)"/>
<g clip-path="url(#pfa2d63858b)">
<circle cx="275.5" cy="2246.5" r="9.72" fill="#d62728"/>
<circle cx="454.5" cy="2232.5" r="9.72" fill="#d62728"/>
<circle cx="633.5" cy="2183.5" r="9.72" fill="#d62728"/>
<circle cx="813.5" cy="2101.5" r="9.72" fill="#d62728"/>
<circle cx="992.5" cy="2080.5" r="9.72" fill="#d62728"/>
<circle cx="1172.5" cy="2062.5" r="9.72" fill="#d62728"/>
<circle cx="1351.5" cy="2068.5" r="9.72" fill="#d62728"/>
<circle cx="1530.5" cy="2022.5" r="9.72" fill="#d62728"/>
<circle cx="1710.5" cy="2016.5" r="9.72" fill="#d62728"/>
<circle cx="1889.5" cy="1977.5" r="9.72" fill="#d62728"/>
</g>
<path d="M194 2283L194 1666" fill="none" stroke="#000000" stroke-width="2.22" stroke-linecap="square" stroke-linejoin="miter"/>
<path d="M1970 2283L1970 1666" fill="none" stroke="#000000" stroke-width="2.22" stroke-linecap="square" stroke-linejoin="miter"/>
<path d="M194 2283L1970 2283" fill="none" stroke="#000000" stroke-width="2.22" stroke-linecap="square" stroke-linejoin="miter"/>
<path d="M194 1666L1970 1666" fill="none" stroke="#000000" stroke-width="2.22" stroke-linecap="square" stroke-linejoin="miter"/>
<text x="1081.9" y="1648.95" font-size="33.33" text-anchor="middle">P99 TPOT (ms)</text>
<path d="M213.5 2027.5L557.5 2027.5Q562.5 2027.5 562.5 2021.5L562.5 1685.5Q562.5 1680.5 557.5 1680.5L213.5 1680.5Q208.5 1680.5 208.5 1685.5L208.5 2021.5Q208.5 2027.5 213.5 2027.5Z" fill="#ffffff" stroke="#cccccc" stroke-width="2.78" stroke-linejoin="miter" opacity="0.8"/>
<path d="M218.81 1702.9L246.58 1702.9L274.36 1702.9" fill="none" stroke="#1f77b4" stroke-width="4.17" stroke-dasharray="15.42,6.67"/>
<circle cx="247.5" cy="1703.5" r="9.72" fill="#1f77b4"/>
<text x="297.18" y="1712.62" font-size="27.78">image=1 non_epd</text>
<path d="M218.81 1745.79L246.58 1745.79L274.36 1745.79" fill="none" stroke="#1f77b4" stroke-width="4.17" stroke-linecap="square"/>
<circle cx="247.5" cy="1746.5" r="9.72" fill="#1f77b4"/>
<text x="297.18" y="1755.51" font-size="27.78">image=1 epd</text>
<path d="M218.81 1787.68L246.58 1787.68L274.36 1787.68" fill="none" stroke="#ff7f0e" stroke-width="4.17" stroke-dasharray="15.42,6.67"/>
<circle cx="247.5" cy="1788.5" r="9.72" fill="#ff7f0e"/>
<text x="297.18" y="1797.4" font-size="27.78">image=2 non_epd</text>
<path d="M218.81 1830.57L246.58 1830.57L274.36 1830.57" fill="none" stroke="#ff7f0e" stroke-width="4.17" stroke-linecap="square"/>
<circle cx="247.5" cy="1831.5" r="9.72" fill="#ff7f0e"/>
<text x="297.18" y="1840.29" font-size="27.78">image=2 epd</text>
<path d="M218.81 1872.45L246.58 1872.45L274.36 1872.45" fill="none" stroke="#2ca02c" stroke-width="4.17" stroke-dasharray="15.42,6.67"/>
<circle cx="247.5" cy="1872.5" r="9.72" fill="#2ca02c"/>
<text x="297.18" y="1882.18" font-size="27.78">image=3 non_epd</text>
<path d="M218.81 1915.34L246.58 1915.34L274.36 1915.34" fill="none" stroke="#2ca02c" stroke-width="4.17" stroke-linecap="square"/>
<circle cx="247.5" cy="1915.5" r="9.72" fill="#2ca02c"/>
<text x="297.18" y="1925.07" font-size="27.78">image=3 epd</text>
<path d="M218.81 1957.23L246.58 1957.23L274.36 1957.23" fill="none" stroke="#d62728" stroke-width="4.17" stroke-dasharray="15.42,6.67"/>
<circle cx="247.5" cy="1957.5" r="9.72" fill="#d62728"/>
<text x="297.18" y="1966.95" font-size="27.78">image=4 non_epd</text>
<path d="M218.81 2000.12L246.58 2000.12L274.36 2000.12" fill="none" stroke="#d62728" stroke-width="4.17" stroke-linecap="square"/>
<circle cx="247.5" cy="2000.5" r="9.72" fill="#d62728"/>
<text x="297.18" y="2009.84" font-size="27.78">image=4 epd</text>
<text x="1000" y="74" font-size="33.33" text-anchor="middle">EPD vs Non-EPD Metrics (input_len=400)</text>
</svg>
</body></html>
